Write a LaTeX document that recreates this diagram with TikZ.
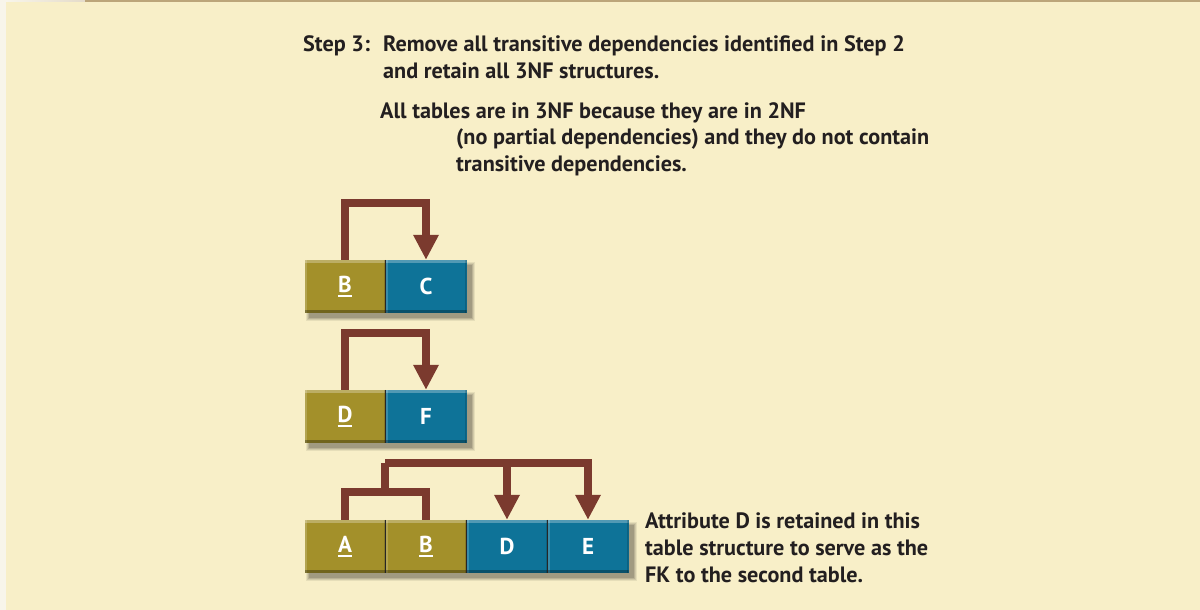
\documentclass[tikz,border=0pt]{standalone}
\usepackage{fontspec}
\setmainfont{PT Sans}
\usetikzlibrary{arrows.meta,calc}
\definecolor{paper}{HTML}{F8EFC8}
\definecolor{paperedge}{HTML}{F8F5EA}
\definecolor{rulebrown}{HTML}{BCA57A}
\definecolor{ink}{HTML}{231F20}
\definecolor{keyfill}{HTML}{A3902A}
\definecolor{attrfill}{HTML}{0E7398}
\definecolor{depbrown}{HTML}{7B3A2E}
\pgfdeclarelayer{shadowlayer}
\pgfdeclarelayer{paperlayer}
\pgfsetlayers{paperlayer,shadowlayer,main}
\newcommand\pkey[1]{\vtop{\hbox{#1}\kern2.2pt\hrule height 2.2pt}}
\tikzset{
  cell/.style={rectangle, minimum width=81pt, minimum height=53pt, inner sep=0pt,
    text=white, font=\fontsize{23}{23}\selectfont\bfseries,
    path picture={
      \fill[white,opacity=.28] (path picture bounding box.north west) rectangle ([yshift=-3pt]path picture bounding box.north east);
      \fill[white,opacity=.18] (path picture bounding box.north west) rectangle ([xshift=2pt]path picture bounding box.south west);
      \fill[black,opacity=.30] (path picture bounding box.south west) rectangle ([yshift=3pt]path picture bounding box.south east);
      \fill[black,opacity=.15] (path picture bounding box.north east) rectangle ([xshift=-2pt]path picture bounding box.south east);
    }},
  keycell/.style={cell, fill=keyfill},
  attrcell/.style={cell, fill=attrfill},
  divider/.style={black!85, line width=1.4pt},
  dep/.style={depbrown, line width=8pt},
  deparrow/.style={dep, -{Triangle[width=24pt,length=25pt]}},
  txt/.style={text=ink, font=\fontsize{22.2}{27}\selectfont\bfseries, inner sep=0pt, anchor=base west},
}
% soft drop shadow below a row of cells
\newcommand\tableshadow[2]{%
  \begin{pgfonlayer}{shadowlayer}
  \foreach \s/\o in {3/.07,2/.09,1/.11,0/.13}
    \fill[black,opacity=\o] ($(#1.north west)+(5-\s,5-\s)$) rectangle ($(#2.south east)+(5+\s,5+\s)$);
  \end{pgfonlayer}}
\begin{document}
\begin{tikzpicture}[x=1pt,y=-1pt]
  % page
  \begin{pgfonlayer}{paperlayer}
  \fill[paperedge] (0,0) rectangle (1200,610);
  \fill[paper] (6,2) rectangle (1200,610);
  \fill[left color=paperedge, right color=rulebrown!40] (6,0) rectangle (85,2);
  \fill[rulebrown] (85,0) rectangle (1200,2);
  \end{pgfonlayer}

  % headings
  \node[txt] (step) at (303,52) {Step 3:};
  \node[txt] (stepa) at (383,52) {Remove all transitive dependencies identified in Step 2};
  \node[txt] (stepb) at (383,79) {and retain all 3NF structures.};
  \node[txt] (nfa) at (380,118) {All tables are in 3NF because they are in 2NF};
  \node[txt] (nfb) at (456,144) {(no partial dependencies) and they do not contain};
  \node[txt] (nfc) at (456,171) {transitive dependencies.};

  % table B C
  \node[keycell] (b1) at (345,286.5) {\pkey{B}};
  \node[attrcell] (c1) at (426,286.5) {C};
  % table D F
  \node[keycell] (d2) at (345,416.5) {\pkey{D}};
  \node[attrcell] (f2) at (426,416.5) {F};
  % table A B D E
  \node[keycell] (a3) at (345,546.5) {\pkey{A}};
  \node[keycell] (b3) at (426,546.5) {\pkey{B}};
  \node[attrcell] (d3) at (507,546.5) {D};
  \node[attrcell] (e3) at (588,546.5) {E};

  \tableshadow{b1}{c1}
  \tableshadow{d2}{f2}
  \tableshadow{a3}{e3}

  % cell dividers
  \draw[divider] (b1.north east) -- (b1.south east);
  \draw[divider] (d2.north east) -- (d2.south east);
  \draw[divider] (a3.north east) -- (a3.south east);
  \draw[divider] (b3.north east) -- (b3.south east);
  \draw[divider] (d3.north east) -- (d3.south east);

  % dependencies
  \coordinate (t1) at (385,203);
  \draw[deparrow] (b1.north) |- (t1) -| (c1.north);
  \coordinate (t2) at (385,333);
  \draw[deparrow] (d2.north) |- (t2) -| (f2.north);
  \coordinate (kj) at (385,492);
  \coordinate (kt) at (385,463);
  \draw[dep] (a3.north) |- (kj) -| (b3.north);
  \draw[dep] (kj) -- (kt);
  \draw[deparrow] (kt) -| (d3.north);
  \draw[deparrow] (kt) -| (e3.north);

  % note
  \node[txt] (notea) at (645,528) {Attribute D is retained in this};
  \node[txt] (noteb) at (645,555) {table structure to serve as the};
  \node[txt] (notec) at (645,582) {FK to the second table.};
\end{tikzpicture}
\end{document}
